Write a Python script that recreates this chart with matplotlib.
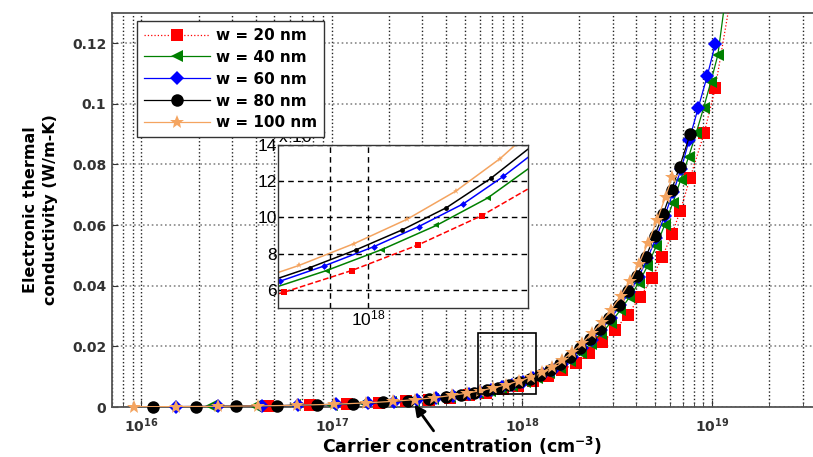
import numpy as np
import matplotlib
matplotlib.use('Agg')
import matplotlib.pyplot as plt
from matplotlib.ticker import FixedLocator, FixedFormatter, NullLocator, NullFormatter
from matplotlib.patches import Rectangle

plt.rcParams['font.family'] = 'DejaVu Sans'
plt.rcParams['mathtext.fontset'] = 'custom'
plt.rcParams['mathtext.rm'] = 'Liberation Sans'
plt.rcParams['mathtext.bf'] = 'DejaVu Sans:bold'
plt.rcParams['mathtext.default'] = 'bf'

# carrier concentration (log10 of cm^-3) and electronic thermal conductivity (W/m-K)
log_n_w20 = [16.663, 16.884, 17.08, 17.25, 17.39, 17.51, 17.62, 17.72, 17.81, 17.899, 17.98, 18.059,
             18.135, 18.21, 18.283, 18.354, 18.423, 18.49, 18.556, 18.621, 18.684, 18.737, 18.789,
             18.832, 18.884, 18.958, 19.016, 19.10]
kappa_w20 = [3.41e-4, 5.67e-4, 8.9e-4, 1.32e-3, 1.82e-3, 2.40e-3, 3.09e-3, 3.89e-3, 4.78e-3, 5.87e-3,
             7.07e-3, 8.48e-3, 0.0101, 0.0121, 0.0146, 0.0177, 0.0213, 0.0255, 0.0305, 0.0362, 0.0425,
             0.0494, 0.0570, 0.0646, 0.0755, 0.0903, 0.1051, 0.136]

log_n_w40 = [16.368, 16.595, 16.805, 17.00, 17.17, 17.31, 17.43, 17.53, 17.62, 17.70, 17.77, 17.83,
             17.89, 17.95, 18.016, 18.081, 18.142, 18.20, 18.255, 18.31, 18.363, 18.415, 18.466,
             18.516, 18.565, 18.613, 18.66, 18.706, 18.75, 18.793, 18.835, 18.876, 18.916, 18.955,
             18.993, 19.03, 19.07]
kappa_w40 = [1.85e-4, 3.12e-4, 5.06e-4, 7.93e-4, 1.17e-3, 1.62e-3, 2.14e-3, 2.69e-3, 3.31e-3, 3.98e-3,
             4.67e-3, 5.36e-3, 6.16e-3, 7.07e-3, 8.23e-3, 9.56e-3, 0.01107, 0.0130, 0.01522, 0.01795,
             0.02089, 0.0241, 0.02773, 0.03184, 0.03618, 0.04083, 0.04649, 0.05309, 0.05998, 0.06723,
             0.07499, 0.08241, 0.09036, 0.09863, 0.1072, 0.1161, 0.135]

log_n_w60 = [16.184, 16.40, 16.632, 16.821, 17.02, 17.19, 17.33, 17.45, 17.55, 17.64, 17.72, 17.78,
             17.84, 17.895, 17.947, 18.006, 18.06, 18.113, 18.161, 18.213, 18.265, 18.317, 18.368,
             18.418, 18.468, 18.517, 18.565, 18.613, 18.66, 18.706, 18.751, 18.795, 18.837, 18.879,
             18.926, 18.974, 19.016]
kappa_w60 = [1.26e-4, 2.08e-4, 3.54e-4, 5.47e-4, 8.66e-4, 1.28e-3, 1.77e-3, 2.33e-3, 2.93e-3, 3.61e-3,
             4.34e-3, 4.98e-3, 5.72e-3, 6.49e-3, 7.32e-3, 8.38e-3, 9.50e-3, 0.01075, 0.01227, 0.01413,
             0.01656, 0.01932, 0.02224, 0.02553, 0.02931, 0.03353, 0.03788, 0.04279, 0.04898, 0.05589,
             0.0631, 0.07079, 0.07852, 0.0880, 0.0985, 0.1091, 0.1196]

log_n_w80 = [16.058, 16.289, 16.495, 16.711, 16.921, 17.11, 17.27, 17.40, 17.51, 17.60, 17.68, 17.75,
             17.815, 17.875, 17.93, 17.985, 18.04, 18.093, 18.146, 18.199, 18.252, 18.305, 18.357,
             18.408, 18.458, 18.508, 18.557, 18.605, 18.652, 18.698, 18.743, 18.787, 18.829, 18.884]
kappa_w80 = [9.7e-5, 1.65e-4, 2.66e-4, 4.37e-4, 7.09e-4, 1.095e-3, 1.58e-3, 2.14e-3, 2.75e-3, 3.38e-3,
             4.07e-3, 4.78e-3, 5.55e-3, 6.37e-3, 7.23e-3, 8.21e-3, 9.31e-3, 0.01054, 0.01216, 0.01409,
             0.01652, 0.01932, 0.02229, 0.0257, 0.02951, 0.0338, 0.0383, 0.04325, 0.04955, 0.05654,
             0.06368, 0.07161, 0.07925, 0.0899]

log_n_w100 = [15.963, 16.184, 16.40, 16.61, 16.816, 17.01, 17.18, 17.32, 17.44, 17.54, 17.63, 17.71,
              17.78, 17.85, 17.917, 17.983, 18.046, 18.104, 18.157, 18.21, 18.263, 18.316, 18.368,
              18.419, 18.469, 18.519, 18.568, 18.616, 18.663, 18.71, 18.755, 18.79]
kappa_w100 = [8.2e-5, 1.36e-4, 2.24e-4, 3.63e-4, 5.83e-4, 9.11e-4, 1.35e-3, 1.86e-3, 2.45e-3, 3.09e-3,
              3.80e-3, 4.56e-3, 5.36e-3, 6.30e-3, 7.35e-3, 8.56e-3, 9.9e-3, 0.01145, 0.01325, 0.01545,
              0.01811, 0.02104, 0.02432, 0.028, 0.03214, 0.03656, 0.0414, 0.04732, 0.0542, 0.06158,
              0.06934, 0.0759]

labels = ['w = 20 nm', 'w = 40 nm', 'w = 60 nm', 'w = 80 nm', 'w = 100 nm']
x_ticks = [1e16, 1e17, 1e18, 1e19]
x_tick_labels = [r'$10^{16}$', r'$10^{17}$', r'$10^{18}$', r'$10^{19}$']
y_ticks = [0, 0.02, 0.04, 0.06, 0.08, 0.1, 0.12]
y_tick_labels = ['0', '0.02', '0.04', '0.06', '0.08', '0.1', '0.12']
inset_y_ticks = [0.006, 0.008, 0.010, 0.012, 0.014]
inset_y_labels = ['6', '8', '10', '12', '14']
zoom_n = (5.9e17, 1.19e18)
zoom_k = (0.0043, 0.0244)

series = [
    (log_n_w20, kappa_w20, dict(color='#ff0000', ls=':', marker='s', ms=8), dict(ls='--', ms=4.5), True),
    (log_n_w40, kappa_w40, dict(color='#008000', ls='-', marker='<', ms=8.5), dict(ls='-', ms=4), True),
    (log_n_w60, kappa_w60, dict(color='#0000ff', ls='-', marker='D', ms=7), dict(ls='-', ms=3.5), False),
    (log_n_w80, kappa_w80, dict(color='#000000', ls='-', marker='o', ms=9), dict(ls='-', ms=3.5), False),
    (log_n_w100, kappa_w100, dict(color='#f4a460', ls='-', marker='*', ms=10.5), dict(ls='-', ms=5), False),
]

fig = plt.figure(figsize=(8.13, 4.57), dpi=100)
ax = fig.add_axes([0.1378, 0.1094, 0.8622, 0.8626])

handles = []
for log_n, kappa, style, inset_style, line_tail in series:
    n = 10 ** np.array(log_n)
    k = np.array(kappa)
    # line clipped to the axes, markers drawn unclipped so those on the zero line stay whole
    ax.plot(n, k, lw=0.9, color=style['color'], ls=style['ls'], zorder=3)
    m = slice(0, len(n) - 1) if line_tail else slice(None)
    ax.plot(n[m], k[m], ls='None', marker=style['marker'], ms=style['ms'],
            color=style['color'], markeredgewidth=0, zorder=3, clip_on=False)
    proxy, = ax.plot([], [], lw=0.9, markeredgewidth=0, **style)
    handles.append(proxy)

ax.set_xscale('log')
ax.set_xlim(7e15, 3.39e19)
ax.set_ylim(0, 0.13)
ax.xaxis.set_major_locator(FixedLocator(x_ticks))
ax.xaxis.set_major_formatter(FixedFormatter(x_tick_labels))
ax.xaxis.set_minor_formatter(NullFormatter())
ax.yaxis.set_major_locator(FixedLocator(y_ticks))
ax.yaxis.set_major_formatter(FixedFormatter(y_tick_labels))
ax.tick_params(axis='both', which='both', direction='in', labelsize=10, colors='#333333')
ax.tick_params(axis='x', which='major', length=5, pad=7)
ax.tick_params(axis='x', which='minor', length=3)
ax.tick_params(axis='y', which='major', length=4, pad=4)
for t in ax.get_yticklabels():
    t.set_fontweight('bold')
ax.grid(True, axis='x', which='both', ls=':', color='#222222', lw=1.0)
ax.grid(True, axis='y', which='major', ls=':', color='#888888', lw=1.2)
for side in ['left', 'bottom', 'top']:
    ax.spines[side].set_color('#555555')
    ax.spines[side].set_linewidth(1.3)
ax.spines['right'].set_visible(False)

ax.set_xlabel('Carrier concentration (cm$^{-3}$)', fontsize=12.5, fontweight='bold', labelpad=0)
ax.set_ylabel('Electronic thermal\nconductivity (W/m-K)', fontsize=11.5, fontweight='bold',
              labelpad=10, linespacing=1.45)

ax.add_patch(Rectangle((zoom_n[0], zoom_k[0]), zoom_n[1] - zoom_n[0], zoom_k[1] - zoom_k[0],
                       fill=False, ec='black', lw=1.2, zorder=4))
ax.annotate('', xy=(2.67e17, 0.0016), xytext=(3.5e17, -0.0086),
            arrowprops=dict(arrowstyle='-|>', color='black', lw=2, mutation_scale=16),
            annotation_clip=False)

# inset
ins = fig.add_axes([0.342, 0.326, 0.3075, 0.3567])
for log_n, kappa, style, inset_style, line_tail in series:
    n = 10 ** np.array(log_n)
    st = dict(style)
    st.update(inset_style)
    ins.plot(n, kappa, lw=1.1, markeredgewidth=0, **st)
ins.set_xscale('log')
ins.set_xlim(7.8e17, 1.55e18)
ins.set_ylim(0.005, 0.014)
ins.xaxis.set_major_locator(FixedLocator([9e17, 1e18]))
ins.xaxis.set_major_formatter(FixedFormatter(['', r'$\mathrm{10^{18}}$']))
ins.xaxis.set_minor_locator(NullLocator())
ins.yaxis.set_major_locator(FixedLocator(inset_y_ticks))
ins.yaxis.set_major_formatter(FixedFormatter(inset_y_labels))
ins.tick_params(axis='both', direction='in', length=3, labelsize=12.5, pad=1)
for t in ins.get_yticklabels():
    t.set_fontfamily('Liberation Sans')
ins.grid(True, ls='--', color='black', lw=1.0, dashes=(4, 3))
for sp in ins.spines.values():
    sp.set_color('#333333')
    sp.set_linewidth(1.0)
ins.text(0, 1.0, r'x 10$^{\mathrm{-3}}$', transform=ins.transAxes, ha='left', va='bottom',
         fontsize=12.5, family='Liberation Sans')

fig.legend(handles, labels, loc='upper left', bbox_to_anchor=(137 / 813, 1 - 21 / 457),
           frameon=True, fancybox=False, edgecolor='#333333', framealpha=1,
           prop=dict(weight='bold', size=11), handlelength=4.3, handletextpad=0.4,
           labelspacing=0.45, borderpad=0.45, borderaxespad=0)

fig.savefig('out.png', dpi=100)
